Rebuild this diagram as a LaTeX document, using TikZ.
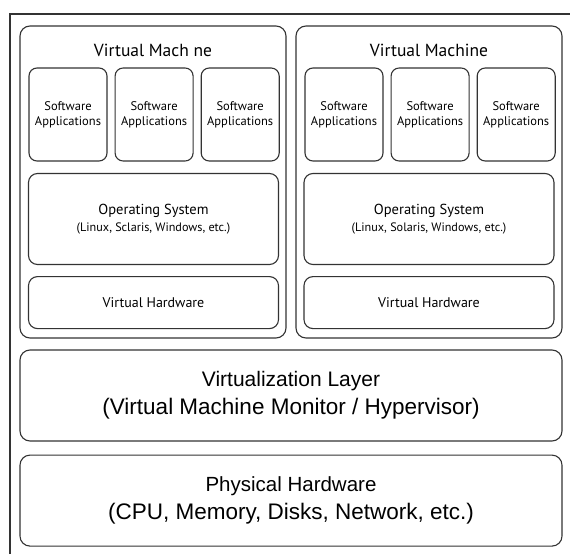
\documentclass[tikz,border=0pt]{standalone}
\usepackage{fontspec}
\setmainfont{Liberation Sans}
\newfontfamily\vmfont{PT Sans}
\usetikzlibrary{positioning}

\begin{document}
\begin{tikzpicture}[
			x=1pt, y=-1pt,
			line/.style={
				draw=black!80,
				line width=1.1pt
			},
			vmbox/.style={
				line,
				rectangle,
				rounded corners=10pt,
				minimum width=266pt,
				minimum height=312pt,
				inner sep=0pt
			},
			appbox/.style={
				line,
				rectangle,
				rounded corners=8pt,
				minimum width=78pt,
				minimum height=93pt,
				inner sep=0pt,
				align=center,
				font=\vmfont\fontsize{12.5}{15}\selectfont
			},
			osbox/.style={
				line,
				rectangle,
				rounded corners=9pt,
				minimum width=250pt,
				minimum height=91pt,
				inner sep=0pt,
				align=center,
				font=\vmfont
			},
			hwbox/.style={
				line,
				rectangle,
				rounded corners=9pt,
				minimum width=250pt,
				minimum height=52pt,
				inner sep=0pt,
				font=\vmfont\fontsize{14}{16}\selectfont
			},
			layerbox/.style={
				line,
				rectangle,
				rounded corners=10pt,
				minimum width=542pt,
				minimum height=91pt,
				inner sep=0pt,
				align=center
			},
			title/.style={
				font=\vmfont\fontsize{17.5}{20}\selectfont,
				inner sep=0pt
			}
			]
			
			\useasboundingbox (0,0) rectangle (570,554);
			
			% Outer frame
			\draw[line] (10,554) |- (570,14);
			
			% Left virtual machine
			\node[vmbox] (vmL) at (153,182) {};
			\node[title] (titleL) at (153,50) {Virtual Mach ne};
			\node[appbox] (appLa) at (68,114.5) {Software\\Applications};
			\node[appbox, right=7pt of appLa] (appLb) {Software\\Applications};
			\node[appbox, right=7pt of appLb] (appLc) {Software\\Applications};
			\node[osbox] (osL) at (153.5,219) {\fontsize{14.5}{16}\selectfont Operating System\\[5pt]\fontsize{12.2}{14}\selectfont (Linux, Sclaris, Windows, etc.)};
			\node[hwbox, below=11pt of osL] (hwL) {Virtual Hardware};
			
			% Right virtual machine
			\node[vmbox] (vmR) at (429,182) {};
			\node[title] (titleR) at (429,50) {Virtual Machine};
			\node[appbox] (appRa) at (344,114.5) {Software\\Applications};
			\node[appbox, right=7pt of appRa] (appRb) {Software\\Applications};
			\node[appbox, right=7pt of appRb] (appRc) {Software\\Applications};
			\node[osbox] (osR) at (429,219) {\fontsize{14.5}{16}\selectfont Operating System\\[5pt]\fontsize{12.2}{14}\selectfont (Linux, Solaris, Windows, etc.)};
			\node[hwbox, below=11pt of osR] (hwR) {Virtual Hardware};
			
			% Virtualization layer
			\node[layerbox] (virt) at (291,395.5) {\fontsize{21}{25}\selectfont Virtualization Layer\\[6pt]\fontsize{22.5}{25}\selectfont (Virtual Machine Monitor / Hypervisor)};
			
			% Physical hardware
			\node[layerbox, below=13pt of virt] (phys) {\fontsize{20.5}{25}\selectfont Physical Hardware\\[6pt]\fontsize{22.5}{25}\selectfont (CPU, Memory, Disks, Network, etc.)};
			
		\end{tikzpicture}
\end{document}
